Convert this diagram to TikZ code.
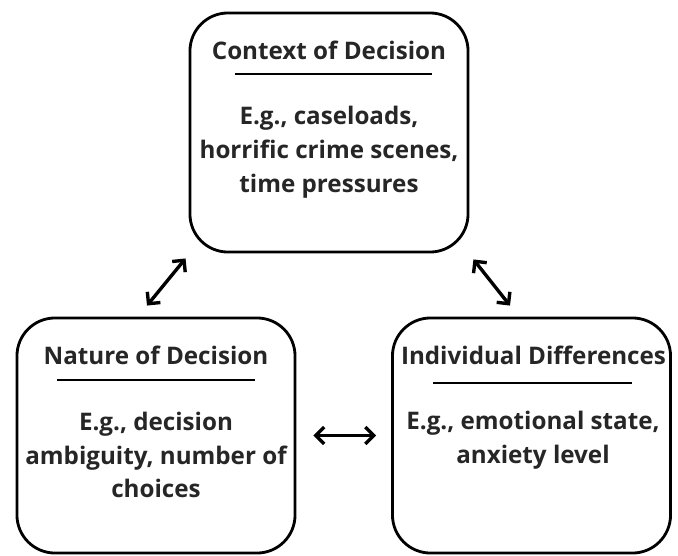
\documentclass[tikz,border=0pt]{standalone}
\usepackage{fontspec}
\setmainfont{Open Sans}
\usetikzlibrary{arrows.meta}

\begin{document}
\begin{tikzpicture}[x=0.025cm,y=-0.025cm,
  box/.style={draw,line width=2pt,rounded corners=0.95cm,minimum width=6.95cm,inner sep=0},
  ttl/.style={font=\fontsize{17.2}{24}\selectfont\bfseries,text=black!85,inner sep=0},
  txt/.style={font=\fontsize{17.2}{24}\selectfont\bfseries,text=black!85,align=center,inner sep=0},
  link/.style={line width=2.4pt,{Straight Barb[length=6pt,width=12pt]}-{Straight Barb[length=6pt,width=12pt]}}]
\useasboundingbox (0,0) rectangle (678,555);
% the three boxes
\node[box,minimum height=5.975cm] (ctx) at (329,132.5) {};
\node[box,minimum height=5.875cm] (nat) at (156,435.5) {};
\node[box,minimum height=5.875cm] (ind) at (531.5,435.5) {};
% top box
\node[ttl] (ctxttl) at (329,50) {Context of Decision};
\draw[line width=2pt] (235,74) -- (432,74);
\node[txt] (ctxtxt) at (329,152) {E.g., caseloads,\\horrific crime scenes,\\time pressures};
% left box
\node[ttl] (natttl) at (156,355) {Nature of Decision};
\draw[line width=2pt] (57,380) -- (255,380);
\node[txt] (nattxt) at (156,455) {E.g., decision\\ambiguity, number of\\choices};
% right box
\node[ttl] (indttl) at (533.5,355) {Individual Differences};
\draw[line width=2pt] (433,383) -- (632,383);
\node[txt] (indtxt) at (533,440) {E.g., emotional state,\\anxiety level};
% arrows
\coordinate (c1) at ([shift={(-3,5)}]ctx.south west);
\coordinate (n1) at ([shift={(-9,-11)}]nat.north);
\coordinate (c2) at ([shift={(4,6)}]ctx.south east);
\coordinate (i1) at ([shift={(-21.5,-11)}]ind.north);
\draw[link] (c1) -- (n1);
\draw[link] (c2) -- (i1);
\draw[link,shorten <=17*0.025cm,shorten >=15*0.025cm] (nat.east) -- (ind.west);
\end{tikzpicture}
\end{document}
